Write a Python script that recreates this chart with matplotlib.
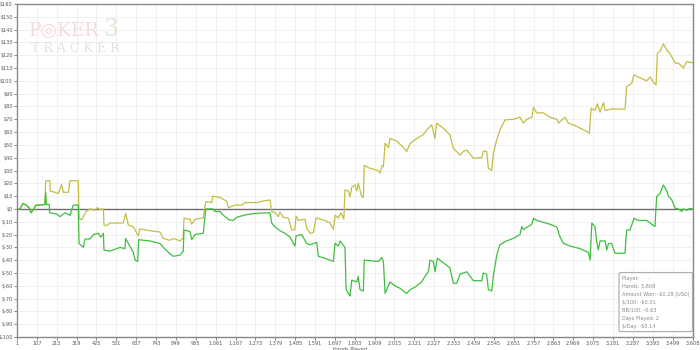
import matplotlib
matplotlib.use("Agg")
import matplotlib.pyplot as plt

# ---- data (hands played, dollars) ----
ev_hands = [1, 17, 33, 49, 65, 76, 86, 102, 134, 150, 154, 177, 178, 204, 221, 239, 248, 275, 284, 328,
            332, 346, 369, 390, 417, 430, 444, 462, 465, 480, 497, 568, 581, 595, 622, 648, 657, 711, 764, 782,
            817, 835, 871, 888, 892, 924, 933, 951, 995, 1008, 1040, 1045, 1084, 1102, 1120, 1129, 1164, 1200, 1218, 1280,
            1307, 1351, 1360, 1378, 1395, 1404, 1422, 1449, 1467, 1484, 1490, 1502, 1538, 1547, 1565, 1582, 1597, 1645, 1671, 1689,
            1698, 1716, 1730, 1745, 1751, 1769, 1778, 1787, 1805, 1814, 1822, 1840, 1849, 1854, 1880, 1902, 1929, 1938, 1950, 1956,
            1965, 1983, 1991, 2027, 2062, 2080, 2098, 2134, 2169, 2187, 2214, 2231, 2240, 2276, 2311, 2329, 2365, 2383, 2401, 2436,
            2481, 2489, 2507, 2516, 2534, 2543, 2561, 2578, 2605, 2649, 2685, 2703, 2721, 2748, 2757, 2774, 2810, 2845, 2881, 2890,
            2925, 2943, 2970, 3006, 3041, 3055, 3064, 3085, 3098, 3112, 3130, 3139, 3174, 3245, 3254, 3281, 3293, 3316, 3361, 3379,
            3396, 3411, 3418, 3432, 3450, 3468, 3486, 3513, 3530, 3557, 3575, 3608]
ev_won = [0, 0, 4.4, 3, 1, -3, -1, 3, 3, 3.5, 22, 22, 14, 13, 12, 19, 13, 13, 22, 22,
          -7, -8.5, -2, 0, -1, 1, -0.5, 0, -12.5, -13, -11, -11, -3.5, -12.5, -14, -21, -15.5, -17, -18, -23,
          -24.5, -23, -25, -22.6, -7.3, -8, -12, -8, -7, 5.7, 5, 10, 9, 7.5, 6, 1, 3, 3, 5, 5,
          6, 7, -2, -3, -6, -2.5, -6.5, -7.3, -16.4, -16, -5.5, -9, -8, -15, -19, -18.5, -7, -9, -11, -16,
          -5, -7, -3, -8, 14.8, 14, 9.4, 17, 18.8, 14, 20, 9.6, 9, 34, 32, 31, 30, 28, 34, 33,
          51.3, 48, 55, 53, 48, 44.8, 51, 55, 58, 61.7, 65.6, 55, 67, 63, 57.8, 47.4, 42, 45, 46, 39.6,
          40, 45, 45, 31.8, 30, 43.5, 54, 61.7, 69.5, 70, 71.6, 67, 70, 71.6, 79.4, 75, 75, 71.6, 70, 67,
          71.6, 67, 65.6, 63, 60.5, 59, 78.6, 77, 82, 75.5, 83, 77, 78, 77.9, 95.6, 98, 104.7, 103, 100, 103,
          99, 96.9, 121.6, 123, 128.9, 124, 121, 113.8, 113.8, 110, 115, 114]

won_hands = [1, 17, 33, 49, 65, 76, 86, 102, 134, 150, 154, 158, 173, 175, 213, 230, 257, 284, 301, 328,
             332, 355, 364, 390, 408, 435, 448, 462, 465, 497, 551, 577, 581, 595, 622, 631, 645, 650, 711, 764,
             782, 817, 835, 871, 888, 892, 924, 933, 951, 995, 1008, 1045, 1058, 1084, 1102, 1134, 1155, 1173, 1218, 1262,
             1307, 1351, 1360, 1378, 1404, 1431, 1458, 1484, 1490, 1520, 1547, 1565, 1600, 1609, 1654, 1689, 1698, 1716, 1725, 1751,
             1757, 1778, 1787, 1814, 1822, 1831, 1849, 1854, 1929, 1947, 1956, 1965, 1991, 2018, 2045, 2080, 2098, 2125, 2160, 2178,
             2196, 2205, 2223, 2231, 2244, 2276, 2311, 2329, 2347, 2365, 2401, 2436, 2481, 2489, 2507, 2516, 2534, 2543, 2561, 2578,
             2605, 2649, 2685, 2694, 2703, 2748, 2757, 2774, 2810, 2845, 2881, 2890, 2899, 2916, 2952, 3006, 3050, 3059, 3068, 3085,
             3094, 3103, 3112, 3139, 3148, 3157, 3174, 3192, 3245, 3254, 3272, 3293, 3316, 3361, 3379, 3405, 3414, 3432, 3450, 3468,
             3477, 3495, 3513, 3530, 3548, 3557, 3575, 3592, 3608]
won = [0, 0, 4.4, 3, 1, -3, -1, 3, 3, 3.5, 13, 3.5, 3.5, -3, -4, -6, -3, -5, 3, 3,
       -27, -30, -23.5, -23.5, -20, -19, -22, -19, -32, -33, -30, -31, -23, -27, -34, -40, -41, -24, -25, -27,
       -30, -35, -37, -36, -33, -16.4, -17.7, -24, -20, -19, 0, 0, -2, -2, -5, -8.6, -9, -6.5, -4.7, -3.7,
       -3.2, -3, -11, -14, -17, -19, -22, -29, -21, -20, -27, -28, -26, -37, -39, -41, -26.8, -29, -25, -30,
       -63, -68, -55.6, -57, -52.5, -63, -64, -40, -41, -38, -41, -66, -57, -60, -62, -66, -63, -61, -57, -52.5,
       -49, -40, -41, -49, -38.5, -42, -46, -58, -58, -51, -49, -56, -56, -50, -51, -63, -64, -52, -36, -28,
       -25.5, -23, -20, -13.8, -16, -12, -7.3, -9, -10.4, -12, -14, -18, -22, -26.8, -29, -31, -34, -40, -11, -14,
       -25, -32, -25, -25, -32, -27, -27, -34.6, -34.6, -16.4, -16.4, -7.3, -9, -9, -11, -13.8, 9.6, 12, 18.7, 14,
       10, 7, 0.5, 0, -2, 0, -1, 0.5, -0.28]

x_ticks = [1, 107, 213, 319, 425, 531, 637, 743, 849, 955, 1061, 1167, 1273, 1379, 1485, 1591, 1697, 1803,
           1909, 2015, 2121, 2227, 2333, 2439, 2545, 2651, 2757, 2863, 2969, 3075, 3181, 3287, 3393, 3499, 3608]
y_ticks = list(range(-100, 161, 10))

stats = ["Player: \u00b7 \u00b7 \u00b7", "Hands: 3,608", "Amount Won: -$0.28 (USD)", "$/100: -$0.01",
         "BB/100: -0.63", "Days Played: 2", "$/Day: -$0.14"]

# ---- figure ----
fig = plt.figure(figsize=(7, 3.5), dpi=100)
ax = fig.add_axes([0.0243, 0.037, 0.9657, 0.9517])

ax.plot(ev_hands, ev_won, color="#c4bd45", linewidth=0.9)
ax.plot(won_hands, won, color="#3fbf3f", linewidth=0.9)
ax.axhline(0, color="#6e6e6e", linewidth=1.0, zorder=1)

ax.set_xlim(1, 3608)
ax.set_ylim(-100, 160)
ax.set_xticks(x_ticks)
ax.set_xticklabels([f"{t:,}" for t in x_ticks])
ax.set_yticks(y_ticks)
ax.set_yticklabels([f"${t}" for t in y_ticks])
ax.tick_params(labelsize=3.6, colors="#555555", length=2, width=0.5, pad=1)
for lab in ax.get_xticklabels() + ax.get_yticklabels():
    lab.set_parse_math(False)
ax.grid(color="#eeeeee", linewidth=0.6)
ax.set_axisbelow(True)
for sp in ax.spines.values():
    sp.set_color("#888888")
    sp.set_linewidth(1.0)

fig.text(0.5, -0.005, "Hands Played", fontsize=3.6, color="#555555", ha="center", va="bottom")

# watermark
ax.text(0.018, 0.945, "P\u25ceKER", transform=ax.transAxes, fontsize=13.5, family="serif",
        color="#f3dcdc", va="top", ha="left")
ax.text(0.128, 0.958, "3", transform=ax.transAxes, fontsize=17, family="serif",
        color="#dcecd8", va="top", ha="left")
ax.text(0.02, 0.885, "T R A C K E R", transform=ax.transAxes, fontsize=9, family="serif",
        color="#e3e3e3", va="top", ha="left")

# stats box
ax.text(0.895, 0.105, "\n".join(stats), transform=ax.transAxes, fontsize=3.6,
        color="#8a8a8a", va="center", ha="left", linespacing=1.75, parse_math=False,
        bbox=dict(boxstyle="round,pad=0.6,rounding_size=0.3", fc="white", ec="#b0b0b0", lw=0.9))

fig.savefig("out.png", dpi=100)
plt.close(fig)
